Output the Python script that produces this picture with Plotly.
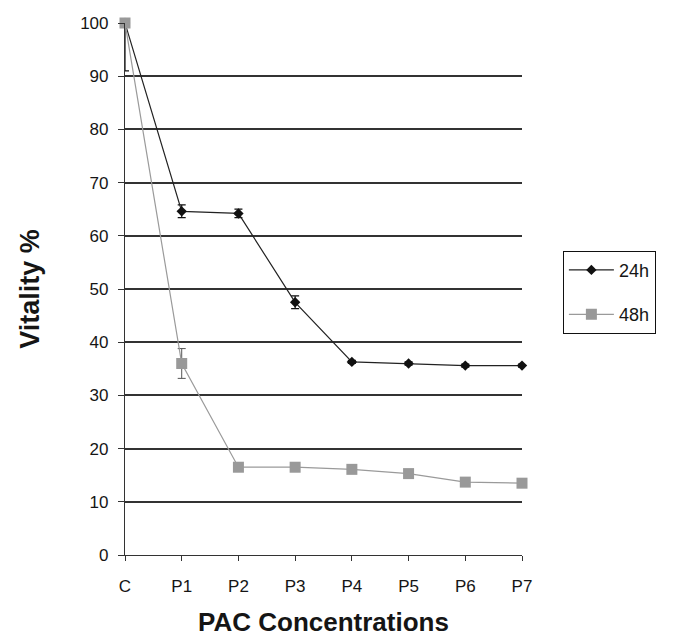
import plotly.graph_objects as go

categories = ["C", "P1", "P2", "P3", "P4", "P5", "P6", "P7"]
vit_24h = [100, 64.6, 64.2, 47.5, 36.3, 36.0, 35.6, 35.6]
err_24h_plus = [0, 1.2, 0.8, 1.2, 0.3, 0.3, 0.3, 0.3]
err_24h_minus = [9, 1.2, 0.8, 1.2, 0.3, 0.3, 0.3, 0.3]
vit_48h = [100, 36.0, 16.5, 16.5, 16.1, 15.3, 13.7, 13.5]
err_48h = [0, 2.8, 0.8, 0.6, 0.5, 0.5, 0.6, 0.5]
y_ticks = [0, 10, 20, 30, 40, 50, 60, 70, 80, 90, 100]

x_idx = list(range(len(categories)))

fig = go.Figure()
fig.add_trace(go.Scatter(
    x=x_idx, y=vit_24h, name="24h", mode="lines+markers", legendgroup="a",
    line=dict(color="#222222", width=1.2),
    marker=dict(symbol="diamond", size=8, color="#111111"),
    error_y=dict(type="data", array=err_24h_plus, arrayminus=err_24h_minus,
                 color="#111111", thickness=1.2, width=4),
    cliponaxis=False,
))
fig.add_trace(go.Scatter(
    x=x_idx, y=vit_48h, name="48h", mode="lines+markers", legendgroup="b",
    line=dict(color="#9a9a9a", width=1.2),
    marker=dict(symbol="square", size=11, color="#999999"),
    error_y=dict(type="data", array=err_48h, color="#555555", thickness=1, width=4),
    cliponaxis=False,
))

fig.update_layout(
    width=673, height=641,
    paper_bgcolor="white", plot_bgcolor="white",
    margin=dict(l=117, r=159, t=15, b=94),
    font=dict(family="Liberation Sans, Arial, sans-serif", color="#151515", size=17),
    showlegend=True,
    legend=dict(
        x=1.103, y=0.572, xanchor="left", yanchor="top",
        bordercolor="#111111", borderwidth=1, bgcolor="white",
        font=dict(size=18, color="#151515"),
        tracegroupgap=18, itemwidth=45,
    ),
    xaxis=dict(
        range=[0, 7], tickmode="array", tickvals=x_idx, ticktext=categories,
        showgrid=False, zeroline=False, showline=True, linecolor="#333333",
        linewidth=1.2, ticks="outside", ticklen=5, tickcolor="#333333",
        tickfont=dict(size=17), ticklabelstandoff=10, automargin=False,
        title=dict(text="<b>PAC Concentrations</b>", font=dict(size=26, color="#151515"),
                   standoff=18),
    ),
    yaxis=dict(
        range=[0, 100], tickmode="array", tickvals=y_ticks,
        showgrid=True, gridcolor="#333333", gridwidth=1.5, zeroline=False,
        showline=True, linecolor="#333333", linewidth=1.2,
        ticks="outside", ticklen=6, tickcolor="#333333",
        tickfont=dict(size=17), ticklabelstandoff=6, automargin=False,
        title=dict(text="<b>Vitality %</b>", font=dict(size=27, color="#151515"),
                   standoff=32),
    ),
)

fig.write_html("out.html")
